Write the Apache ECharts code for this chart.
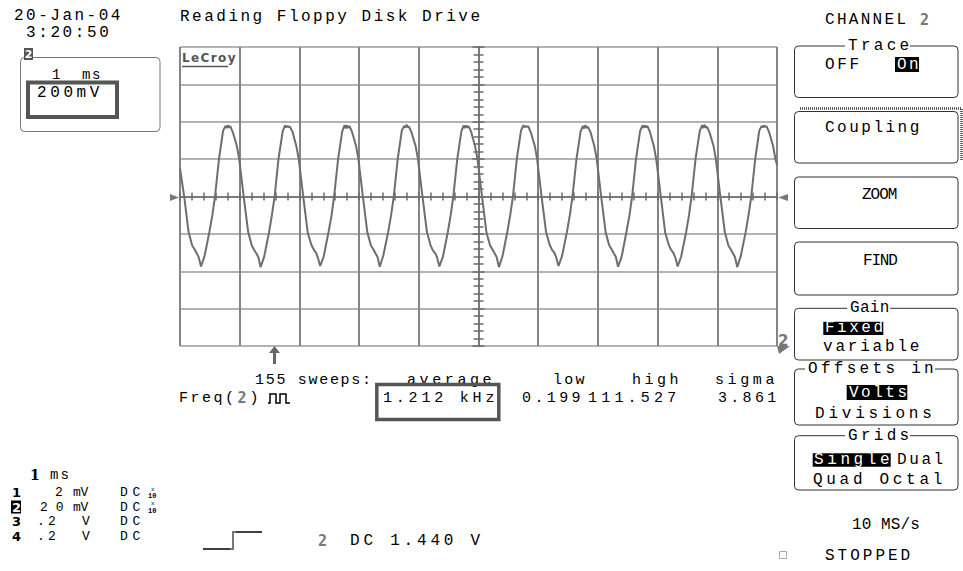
<!DOCTYPE html>
<html>
<head>
<meta charset="utf-8">
<script src="https://cdn.jsdelivr.net/npm/echarts@6/dist/echarts.min.js"></script>
<style>
html,body{margin:0;padding:0;background:#fff;}
#chart{width:963px;height:571px;}
</style>
</head>
<body>
<div id="chart"></div>
<script>
// ---- Data (time in ms, 1 ms/div; channel 2 in volts, 200 mV/div) ----
const timeRangeMs = [0, 10];
const voltRange = [-0.8, 0.8];
const trace = [
[0.000,0.150],[0.070,0.000],[0.144,-0.190],[0.204,-0.262],[0.244,-0.282],[0.284,-0.306],[0.314,-0.326],
[0.352,-0.374],[0.412,-0.318],[0.492,-0.190],[0.542,-0.100],[0.587,0.002],[0.652,0.198],[0.722,0.352],[0.762,0.378],[0.782,0.366],[0.802,0.382],[0.822,0.368],[0.842,0.376],[0.887,0.342],[0.952,0.270],[0.992,0.200],[1.067,0.000],[1.142,-0.190],[1.202,-0.262],[1.242,-0.286],[1.282,-0.306],[1.312,-0.324],
[1.350,-0.378],[1.410,-0.322],[1.490,-0.194],[1.540,-0.098],[1.585,0.000],[1.650,0.202],[1.720,0.348],[1.760,0.380],[1.780,0.370],[1.800,0.378],[1.820,0.372],[1.840,0.374],[1.885,0.346],[1.950,0.268],[1.990,0.198],[2.065,-0.002],[2.140,-0.194],[2.200,-0.258],[2.240,-0.284],[2.280,-0.302],[2.310,-0.328],
[2.348,-0.372],[2.408,-0.320],[2.488,-0.190],[2.538,-0.102],[2.583,0.004],[2.648,0.200],[2.718,0.350],[2.758,0.382],[2.778,0.364],[2.798,0.380],[2.818,0.366],[2.838,0.378],[2.883,0.344],[2.948,0.272],[2.988,0.202],[3.063,0.000],[3.138,-0.192],[3.198,-0.262],[3.238,-0.282],[3.278,-0.306],[3.308,-0.322],
[3.346,-0.376],[3.406,-0.316],[3.486,-0.192],[3.536,-0.100],[3.581,0.000],[3.646,0.198],[3.716,0.354],[3.756,0.378],[3.776,0.368],[3.796,0.384],[3.816,0.370],[3.836,0.374],[3.881,0.340],[3.946,0.270],[3.986,0.200],[4.061,0.002],[4.136,-0.190],[4.196,-0.260],[4.236,-0.288],[4.276,-0.304],[4.306,-0.326],
[4.344,-0.374],[4.404,-0.322],[4.484,-0.194],[4.534,-0.100],[4.579,0.002],[4.644,0.200],[4.714,0.350],[4.754,0.380],[4.774,0.366],[4.794,0.380],[4.814,0.368],[4.834,0.376],[4.879,0.344],[4.944,0.268],[4.984,0.198],[5.059,0.000],[5.134,-0.194],[5.194,-0.262],[5.234,-0.284],[5.274,-0.306],[5.304,-0.324],
[5.342,-0.378],[5.402,-0.320],[5.482,-0.190],[5.532,-0.098],[5.577,0.000],[5.642,0.202],[5.712,0.352],[5.752,0.382],[5.772,0.370],[5.792,0.378],[5.812,0.372],[5.832,0.376],[5.877,0.342],[5.942,0.272],[5.982,0.200],[6.057,-0.002],[6.132,-0.190],[6.192,-0.258],[6.232,-0.286],[6.272,-0.302],[6.302,-0.326],
[6.340,-0.372],[6.400,-0.318],[6.480,-0.192],[6.530,-0.100],[6.575,0.002],[6.640,0.198],[6.710,0.348],[6.750,0.378],[6.770,0.364],[6.790,0.382],[6.810,0.366],[6.830,0.374],[6.875,0.346],[6.940,0.270],[6.980,0.202],[7.055,0.000],[7.130,-0.192],[7.190,-0.262],[7.230,-0.282],[7.270,-0.306],[7.300,-0.322],
[7.338,-0.376],[7.398,-0.322],[7.478,-0.190],[7.528,-0.102],[7.573,0.000],[7.638,0.200],[7.708,0.352],[7.748,0.380],[7.768,0.368],[7.788,0.380],[7.808,0.370],[7.828,0.378],[7.873,0.344],[7.938,0.268],[7.978,0.198],[8.053,0.002],[8.128,-0.194],[8.188,-0.260],[8.228,-0.286],[8.268,-0.304],[8.298,-0.328],
[8.336,-0.374],[8.396,-0.320],[8.476,-0.194],[8.526,-0.100],[8.571,0.004],[8.636,0.202],[8.706,0.350],[8.746,0.382],[8.766,0.366],[8.786,0.384],[8.806,0.368],[8.826,0.374],[8.871,0.342],[8.936,0.272],[8.976,0.200],[9.051,0.000],[9.126,-0.190],[9.186,-0.262],[9.226,-0.284],[9.266,-0.306],[9.296,-0.324],
[9.334,-0.378],[9.394,-0.318],[9.474,-0.192],[9.524,-0.098],[9.569,0.000],[9.634,0.198],[9.704,0.354],[9.744,0.378],[9.764,0.370],[9.784,0.380],[9.804,0.372],[9.824,0.376],[9.869,0.344],[9.934,0.270],[9.974,0.200],[10.000,0.170]
];
const measureHeaders = ['low', 'high', 'sigma'];
const measureValues = ['0.199', '111.527', '3.861'];
const averageFreq = '1.212 kHz';
const sweeps = '155 sweeps:';

// ---- helpers for the scope-screen annotation layer ----
const spacingRules = {};
function fam(base, sp) {
  sp = Math.round(sp * 10) / 10;
  if (!sp) return base;
  const key = 'lsp' + String(Math.round(sp * 10)).replace('-', 'm') + 'x';
  spacingRules[key] = sp;
  return base + ', ' + key;
}
const MONO = '"Liberation Mono"';
// adv = wanted character advance (px) for the monospace scope font
function T(x, y, s, adv, o) {
  o = o || {};
  const size = o.size || 16;
  const align = o.align || 'left';
  let sp;
  if (o.family) sp = o.sp || 0;
  else sp = adv ? adv - 0.6 * size : 0;
  return {type: 'text', x: x, y: y, z: o.z || 20, silent: true,
    style: {text: s, fill: o.color || '#000',
      font: (o.weight ? o.weight + ' ' : '') + size + 'px ' + fam(o.family || MONO, sp),
      align: align, verticalAlign: 'middle', textAlign: align, textVerticalAlign: 'middle'}};
}
function R(x, y, w, h, st, z, r) {
  return {type: 'rect', z: z || 10, silent: true, shape: {x: x, y: y, width: w, height: h, r: r || 0}, style: st};
}
function PL(points, st, z) {
  return {type: 'polyline', z: z || 15, silent: true, shape: {points: points}, style: Object.assign({fill: null}, st)};
}
function PG(points, fill, z) {
  return {type: 'polygon', z: z || 15, silent: true, shape: {points: points}, style: {fill: fill}};
}
const BOX = {fill: '#fff', stroke: '#333', lineWidth: 1};
const WHITE = {fill: '#fff'};
const BLACK = {fill: '#000'};
const GRAYTXT = '#777';

const els = [];
// top-left header
els.push(T(14, 15.5, '20-Jan-04', 12.1));
els.push(T(26, 33, '3:20:50', 12.2));
els.push(T(180, 17, 'Reading Floppy Disk Drive', 12.05));
els.push(R(20.5, 57.5, 139.5, 74, {fill: null, stroke: '#777', lineWidth: 1}, 10, 4));
els.push(R(24, 48, 9, 12, {fill: '#555'}, 12));
els.push(T(28.5, 54.5, '2', 0, {color: '#fff', weight: 'bold', size: 11, family: '"DejaVu Sans"', align: 'center', z: 13}));
els.push(T(52, 75, '1  ms', 10, {size: 14}));
els.push(R(28, 82.5, 89, 34.5, {fill: null, stroke: '#555', lineWidth: 4}, 25));
els.push(T(37, 93, '200mV', 13.2));

// grid decorations
els.push(T(182, 57.5, 'LeCroy', 0, {family: '"DejaVu Sans"', weight: 'bold', size: 12, color: '#555', sp: 1.4}));
els.push({type: 'line', z: 15, silent: true, shape: {x1: 182, y1: 66.5, x2: 228, y2: 66.5}, style: {stroke: '#555', lineWidth: 1.5}});
els.push(PG([[170, 194], [170, 201], [179, 197.5]], '#777'));
els.push(PG([[778, 197.5], [788, 194], [788, 201]], '#777'));
els.push(T(778, 340.5, '2', 0, {family: '"DejaVu Sans"', weight: 'bold', size: 15, color: GRAYTXT}));
els.push(PG([[777, 346], [790, 346], [779, 354]], '#777'));
els.push(PG([[269, 353], [280, 353], [274.5, 346]], '#666'));
els.push(R(273, 352, 3, 12, {fill: '#666'}, 15));

// measurement line
const M = {size: 15};
els.push(T(255, 380, sweeps, 10.7, M));
els.push(T(407, 380, 'average', 12.6, M));
const headerX = [553, 632, 715];
const headerAdv = [11.2, 12.5, 12.6];
measureHeaders.forEach(function (h, i) { els.push(T(headerX[i], 380, h, headerAdv[i], M)); });
els.push(T(179, 398, 'Freq(', 11.5, M));
els.push(T(237.5, 398, '2', 0, {color: GRAYTXT, weight: 'bold', family: '"DejaVu Sans Mono"', size: 15}));
els.push(T(249.5, 398, ')', 0, M));
els.push(PL([[268, 403], [270, 403], [270, 394], [276, 394], [276, 403], [280, 403], [280, 394], [286, 394], [286, 403], [290, 403]], {stroke: '#000', lineWidth: 1.5}));
els.push(T(383, 398, averageFreq, 12.8, M));
els.push(R(376.8, 384.5, 122, 35, {fill: null, stroke: '#555', lineWidth: 3.5}, 25));
const valueX = [522, 588, 718];
const valueAdv = [12.4, 13.2, 12.3];
measureValues.forEach(function (v, i) { els.push(T(valueX[i], 398, v, valueAdv[i], M)); });

// right-hand menu
els.push(T(825, 20, 'CHANNEL', 11.9));
els.push(T(920, 20, '2', 0, {color: GRAYTXT, weight: 'bold', family: '"DejaVu Sans Mono"', size: 15}));
function titledBox(y, h, title, tx, tw, adv) {
  els.push(R(794.5, y, 163.5, h, BOX, 10, 4));
  els.push(R(tx - 3, y - 6, tw + 6, 12, WHITE, 11));
  els.push(T(tx, y, title, adv, {z: 12}));
}
titledBox(46, 51.5, 'Trace', 848, 59, 12.9);
els.push(T(825, 65, 'OFF', 12.2));
els.push(R(895, 57, 24, 15, BLACK, 13));
els.push(T(897, 65, 'On', 12, {color: '#fff', z: 14}));
els.push(PL([[800, 108.5], [961.5, 108.5], [961.5, 160]], {stroke: '#444', lineWidth: 2.5, lineDash: [1, 1]}, 9));
els.push(R(794.5, 111.5, 163.5, 51.5, BOX, 10, 4));
els.push(T(825, 128, 'Coupling', 12.1));
els.push(R(794.5, 177, 163.5, 51.5, BOX, 10, 4));
els.push(T(862, 195, 'ZOOM', 8.6));
els.push(R(794.5, 242, 163.5, 53, BOX, 10, 4));
els.push(T(863, 261, 'FIND', 8.4));
titledBox(308.3, 51.7, 'Gain', 850, 37, 9.9);
els.push(R(823.3, 321.7, 60, 13.3, BLACK, 13));
els.push(T(825, 328, 'Fixed', 12.1, {color: '#fff', z: 14}));
els.push(T(823, 346.5, 'variable', 12.4));
titledBox(369, 56, 'Offsets in', 808, 124, 12.9);
els.push(R(846.7, 385, 60.6, 15, BLACK, 13));
els.push(T(849, 392.5, 'Volts', 12.1, {color: '#fff', z: 14}));
els.push(T(815, 414, 'Divisions', 13.4));
titledBox(435.7, 54.3, 'Grids', 848, 59, 12.9);
els.push(R(812.7, 453.3, 78, 13.4, BLACK, 13));
els.push(T(814, 460, 'Single', 13.2, {color: '#fff', z: 14}));
els.push(T(897, 460, 'Dual', 12.2));
els.push(T(813, 480, 'Quad Octal', 13.3));
els.push(T(852, 525, '10 MS/s', 9.7));
els.push(R(779.5, 551.5, 7, 7, {fill: null, stroke: '#aaa', lineWidth: 1}, 10));
els.push(T(825, 556, 'STOPPED', 12.6));

// bottom-left channel table
els.push(T(30, 475, '1', 0, {weight: 'bold', family: '"DejaVu Serif"', size: 14}));
els.push(T(50, 475, 'ms', 10.5, {size: 14}));
const rowY = [492.5, 507, 521.5, 536];
const rowGain = ['2', '20', '.2', '.2'];
const rowGainX = [55, 40, 37, 37];
const rowGainAdv = [0, 15.8, 11, 11];
const rowUnit = ['mV', 'mV', 'V', 'V'];
const rowUnitX = [73, 73, 82, 82];
rowY.forEach(function (y, i) {
  if (i === 1) {
    els.push(R(11, y - 6.5, 10, 13, BLACK, 13));
    els.push(T(12, y, String(i + 1), 0, {weight: 'bold', family: '"DejaVu Sans"', size: 13, color: '#fff', z: 14}));
  } else {
    els.push(T(12, y, String(i + 1), 0, {weight: 'bold', family: '"DejaVu Sans"', size: 13}));
  }
  els.push(T(rowGainX[i], y, rowGain[i], rowGainAdv[i], {size: 13}));
  els.push(T(rowUnitX[i], y, rowUnit[i], 7.6, {size: 13}));
  els.push(T(120, y, 'DC', 12.5, {size: 13}));
  if (i < 2) {
    els.push(T(151, y - 3.5, 'x', 0, {size: 6}));
    els.push(T(148, y + 3.5, '10', 0, {size: 7, weight: 'bold'}));
  }
});
els.push(PL([[203, 549], [230, 549]], {stroke: '#000', lineWidth: 1.5}));
els.push(PL([[230, 549], [233, 549], [233, 532], [236, 532]], {stroke: '#777', lineWidth: 2}));
els.push(PL([[236, 532], [262, 532]], {stroke: '#000', lineWidth: 1.5}));
els.push(T(318, 541, '2', 0, {color: GRAYTXT, weight: 'bold', family: '"DejaVu Sans Mono"', size: 15}));
els.push(T(350, 541, 'DC 1.440 V', 13.4));

// letter-spacing classes for the wide-set scope font
(function () {
  let css = '';
  Object.keys(spacingRules).forEach(function (k) {
    css += '#chart text[style*="' + k + '"]{letter-spacing:' + spacingRules[k] + 'px;}\n';
  });
  const st = document.createElement('style');
  st.textContent = css;
  document.head.appendChild(st);
})();

const tickStyle = {color: '#6a6a6a', width: 1.5};
function centerX(pos) {
  return {type: 'value', min: -5, max: 5, interval: 1, position: pos,
    axisLine: {show: true, onZero: true, onZeroAxisIndex: 0, lineStyle: {color: '#7a7a7a', width: 2}},
    axisTick: {show: true, length: 4, lineStyle: tickStyle},
    minorTick: {show: true, splitNumber: 5, length: 4, lineStyle: tickStyle},
    axisLabel: {show: false}, splitLine: {show: false}, minorSplitLine: {show: false}};
}
function centerY(pos) {
  return {type: 'value', min: -4, max: 4, interval: 1, position: pos,
    axisLine: {show: true, onZero: true, onZeroAxisIndex: 1, lineStyle: {color: '#7a7a7a', width: 2}},
    axisTick: {show: true, length: 6, lineStyle: tickStyle},
    minorTick: {show: true, splitNumber: 5, length: 5, lineStyle: tickStyle},
    axisLabel: {show: false}, splitLine: {show: false}, minorSplitLine: {show: false}};
}

const chart = echarts.init(document.getElementById('chart'), null, {renderer: 'svg'});
chart.setOption({
  animation: false,
  backgroundColor: '#fff',
  grid: {left: 180, top: 47, width: 597, height: 299, containLabel: false, outerBoundsMode: 'none'},
  xAxis: [
    {type: 'value', min: timeRangeMs[0], max: timeRangeMs[1], interval: 1,
      axisLine: {show: false}, axisTick: {show: false}, axisLabel: {show: false},
      splitLine: {show: true, lineStyle: {color: '#858585', width: 2}}},
    centerX('bottom'),
    centerX('top')
  ],
  yAxis: [
    {type: 'value', min: voltRange[0], max: voltRange[1], interval: 0.2,
      axisLine: {show: false}, axisTick: {show: false}, axisLabel: {show: false},
      splitLine: {show: true, lineStyle: {color: '#9a9a9a', width: 1.5}}},
    centerY('left'),
    centerY('right')
  ],
  series: [{
    type: 'line', xAxisIndex: 0, yAxisIndex: 0, data: trace,
    symbol: 'none', showSymbol: false, z: 5,
    lineStyle: {color: '#6e6e6e', width: 2}
  }],
  graphic: {elements: els}
});
</script>
</body>
</html>
